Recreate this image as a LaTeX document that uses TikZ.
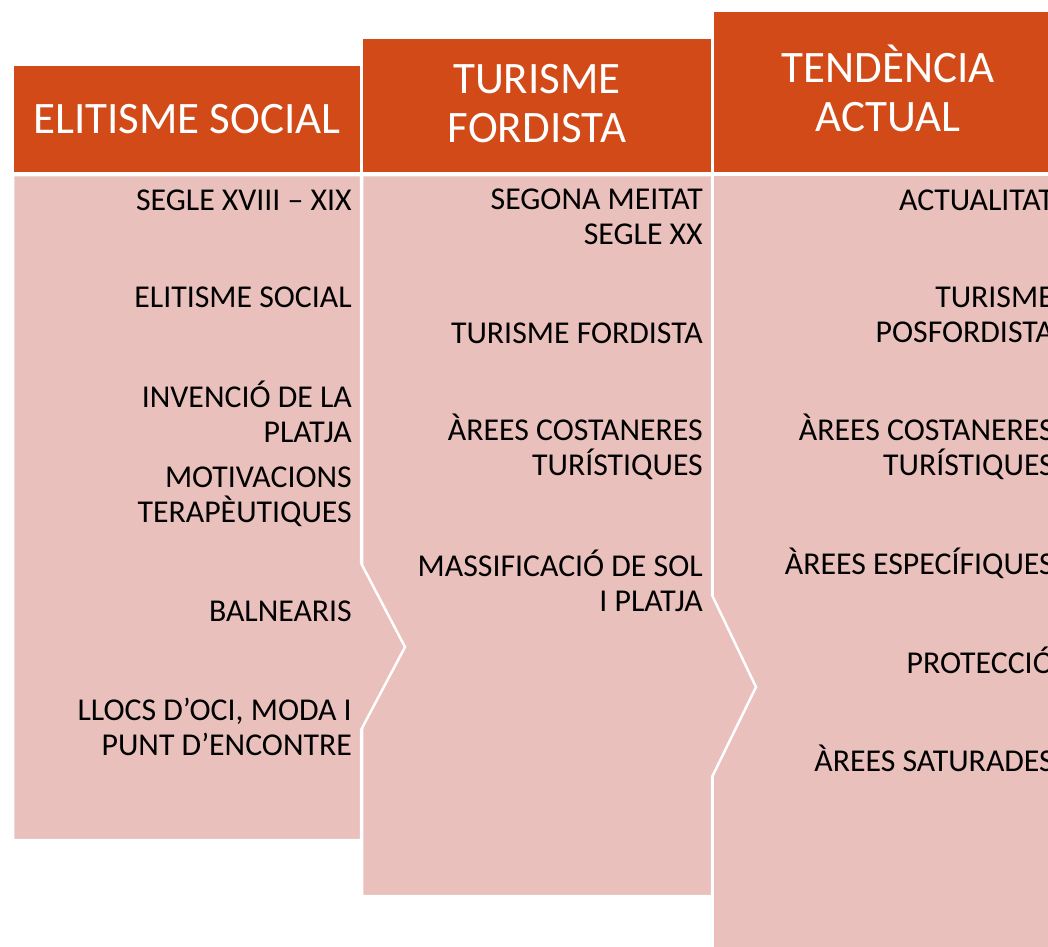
\documentclass[tikz,border=0pt]{standalone}
\usepackage{fontspec}
\setmainfont{Carlito}
\definecolor{headred}{HTML}{D24A18}
\definecolor{bodypink}{HTML}{E9C0BC}
\tikzset{
  headbox/.style={fill=headred, draw=white, line width=2.5pt},
  bodybox/.style={fill=bodypink, draw=white, line width=2.5pt},
  headtext/.style={text=white, align=center, font=\fontsize{45}{49}\selectfont, inner sep=0pt},
  itemtext/.style={anchor=east, align=right, font=\fontsize{31.8}{35}\selectfont, inner sep=0pt}
}
\begin{document}
\begin{tikzpicture}[x=1pt,y=-1pt]
\clip (0,0) rectangle (1048,946);
\fill[white] (0,0) rectangle (1048,946);
% bodies, back to front
\draw[bodybox] (713,175) -- (1064,175) -- (1064,965) -- (713,965) -- cycle;
\draw[bodybox] (362,175) -- (712,175) -- (712,595) -- (756,687) -- (712,777) -- (712,896) -- (362,896) -- cycle;
\draw[bodybox] (13,175) -- (361,175) -- (361,563) -- (405,647) -- (361,730) -- (361,840) -- (13,840) -- cycle;
% headers
\draw[headbox] (13,65) rectangle (361,173);
\draw[headbox] (362,38) rectangle (712,173);
\draw[headbox] (713,11) rectangle (1064,173);
\node[headtext] (elit) at (187,119) {ELITISME SOCIAL};
\node[headtext] (ford) at (537,104) {TURISME\\FORDISTA};
\node[headtext] (tend) at (888,88) {TENDÈNCIA\\ACTUAL};
% column 1
\node[itemtext] (segle) at (352,200) {SEGLE XVIII – XIX};
\node[itemtext] (elitsoc) at (352,297) {ELITISME SOCIAL};
\node[itemtext] (platja) at (352,412) {INVENCIÓ DE LA\\PLATJA};
\node[itemtext] (terap) at (352,497) {MOTIVACIONS\\TERAPÈUTIQUES};
\node[itemtext] (balne) at (352,611) {BALNEARIS};
\node[itemtext] (lloc) at (352,727) {LLOCS D’OCI, MODA I\\PUNT D’ENCONTRE};
% column 2
\node[itemtext] (meitat) at (703,217) {SEGONA MEITAT\\SEGLE XX};
\node[itemtext] (fordsoc) at (703,333) {TURISME FORDISTA};
\node[itemtext] (costa) at (703,447) {ÀREES COSTANERES\\TURÍSTIQUES};
\node[itemtext] (massa) at (703,581) {MASSIFICACIÓ DE SOL\\I PLATJA};
% column 3
\node[itemtext] (actual) at (1054,200) {ACTUALITAT};
\node[itemtext] (posford) at (1054,315) {TURISME\\POSFORDISTA};
\node[itemtext] (costab) at (1054,447) {ÀREES COSTANERES\\TURÍSTIQUES};
\node[itemtext] (especif) at (1054,563) {ÀREES ESPECÍFIQUES};
\node[itemtext] (protec) at (1054,660) {PROTECCIÓ};
\node[itemtext] (satur) at (1054,758) {ÀREES SATURADES};
\end{tikzpicture}
\end{document}
